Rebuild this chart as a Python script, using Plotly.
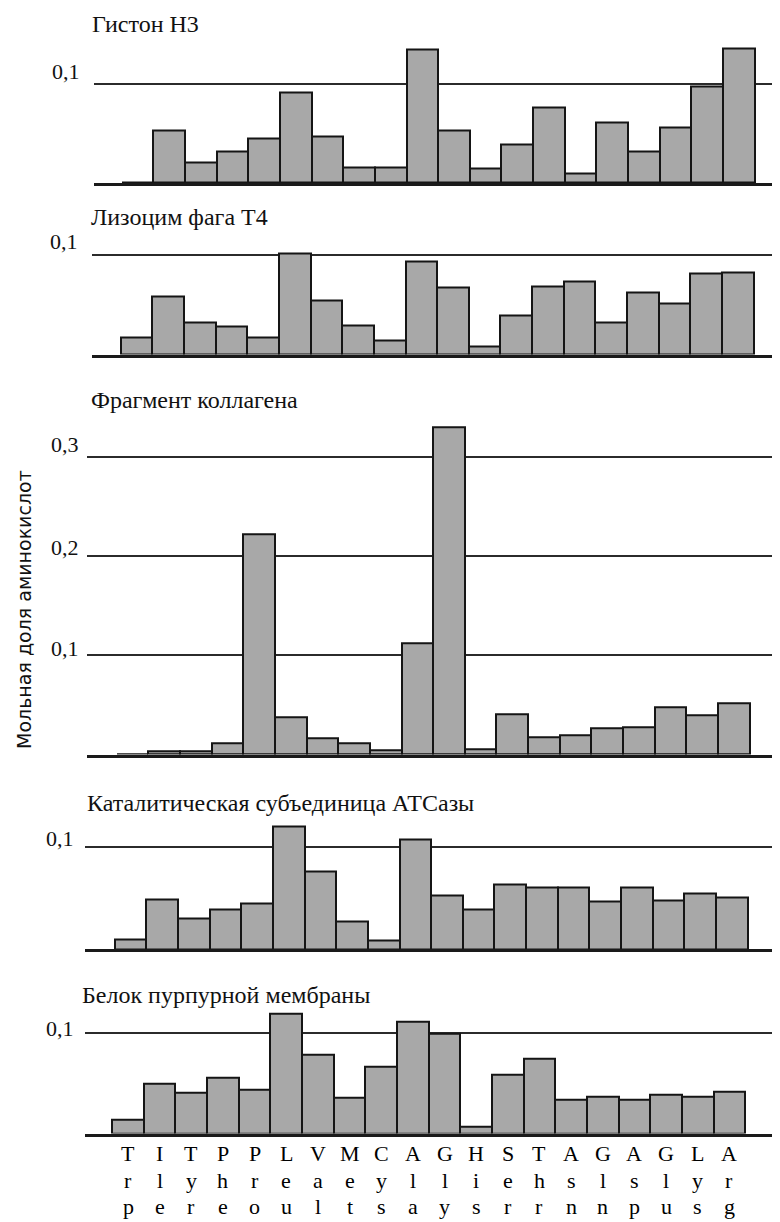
import plotly.graph_objects as go

# ---------------- data ----------------
amino_codes = ["Trp", "Ile", "Tyr", "Phe", "Pro", "Leu", "Val", "Met", "Cys", "Ala",
               "Gly", "His", "Ser", "Thr", "Asn", "Gln", "Asp", "Glu", "Lys", "Arg"]

histone_h3 = [0.000, 0.053, 0.021, 0.032, 0.045, 0.091, 0.047, 0.016, 0.016, 0.135,
              0.053, 0.015, 0.039, 0.076, 0.010, 0.061, 0.032, 0.056, 0.097, 0.136]
lysozyme_t4 = [0.017, 0.058, 0.032, 0.028, 0.017, 0.101, 0.054, 0.029, 0.014, 0.093,
               0.067, 0.008, 0.039, 0.068, 0.073, 0.032, 0.062, 0.051, 0.081, 0.082]
collagen = [0.000, 0.003, 0.003, 0.011, 0.222, 0.038, 0.016, 0.011, 0.004, 0.112,
            0.330, 0.005, 0.041, 0.017, 0.019, 0.026, 0.027, 0.048, 0.040, 0.052]
atcase = [0.009, 0.049, 0.030, 0.039, 0.045, 0.120, 0.076, 0.027, 0.008, 0.107,
          0.053, 0.039, 0.063, 0.060, 0.060, 0.047, 0.060, 0.048, 0.055, 0.051]
purple_membrane = [0.014, 0.049, 0.040, 0.055, 0.043, 0.119, 0.078, 0.035, 0.066, 0.111,
                   0.099, 0.007, 0.058, 0.074, 0.033, 0.036, 0.033, 0.038, 0.036, 0.041]

series = [histone_h3, lysozyme_t4, collagen, atcase, purple_membrane]
panel_titles = ["Гистон Н3", "Лизоцим фага Т4", "Фрагмент коллагена",
                "Каталитическая субъединица АТСазы", "Белок пурпурной мембраны"]
grid_values = [[0.1], [0.1], [0.1, 0.2, 0.3], [0.1], [0.1]]
grid_labels = [["0,1"], ["0,1"], ["0,1", "0,2", "0,3"], ["0,1"], ["0,1"]]
y_title = "Мольная доля аминокислот"

# ---------------- geometry ----------------
# The page body has an 8 px margin, so the figure is drawn 8 px smaller and
# every reference pixel position is shifted by OFF.
OFF = 8
W, H = 780 - OFF, 1222 - OFF


def px(x):
    return (x - OFF) / W


def py(y):
    return (H - (y - OFF)) / H


# base: y pixel of zero line; per: pixels per unit; ymax: top of axis range
# left/right: plot area pixels; c0: pixel centre of first bar (reference pixels)
geom = [
    dict(base=183.0, per=990, ymax=0.16, left=94, right=780, c0=137.5, tx=90, ty=18.5,
         labs=[(82, 71)]),
    dict(base=354.5, per=1000, ymax=0.13, left=92, right=780, c0=136.5, tx=89, ty=217,
         labs=[(80, 241)]),
    dict(base=754.5, per=992, ymax=0.345, left=87, right=780, c0=132.5, tx=89, ty=400,
         labs=[(81, 648), (81, 547), (81, 445)]),
    dict(base=949.0, per=1020, ymax=0.13, left=85, right=778, c0=130.5, tx=85, ty=803,
         labs=[(76, 838)]),
    dict(base=1133.5, per=1005, ymax=0.13, left=85, right=777, c0=128.0, tx=80, ty=995,
         labs=[(76, 1029)]),
]
spacing = 31.65
letter_rows_y = [1153.5, 1180.5, 1206.5]

serif = "Liberation Serif"
fig = go.Figure()
annotations = []
xs = list(range(len(amino_codes)))

for i, (vals, g) in enumerate(zip(series, geom)):
    k = "" if i == 0 else str(i + 1)
    fig.add_trace(go.Bar(
        x=xs, y=vals, width=1.0,
        marker=dict(color="#a8a8a8", line=dict(color="#151515", width=2)),
        xaxis="x" + k, yaxis="y" + k, showlegend=False, hoverinfo="skip",
    ))
    top_px = g["base"] - g["ymax"] * g["per"]
    x0 = (g["left"] - g["c0"]) / spacing
    x1 = (g["right"] - g["c0"]) / spacing
    fig.layout["xaxis" + k] = dict(
        domain=[px(g["left"]), min(1.0, px(g["right"]))], range=[x0, x1], anchor="y" + k,
        showline=True, linecolor="#1a1a1a", linewidth=2.5, showgrid=False,
        zeroline=False, ticks="", tickvals=xs, showticklabels=False,
        automargin=False, fixedrange=True,
    )
    fig.layout["yaxis" + k] = dict(
        domain=[py(g["base"]), py(top_px)], range=[0, g["ymax"]], anchor="x" + k,
        showline=False, zeroline=False, showgrid=True, gridcolor="#2b2b2b",
        gridwidth=2, tickvals=grid_values[i], showticklabels=False,
        automargin=False, fixedrange=True,
    )
    if i == 0:
        # keep the first title fully inside the figure
        title_pos = dict(y=py(OFF + 0.5), yanchor="top")
    else:
        title_pos = dict(y=py(g["ty"]), yanchor="middle")
    annotations.append(dict(
        text=panel_titles[i], xref="paper", yref="paper",
        x=px(g["tx"]), xanchor="left", showarrow=False,
        font=dict(family=serif, size=24, color="#111"), **title_pos,
    ))
    for (lx, ly), lab in zip(g["labs"], grid_labels[i]):
        annotations.append(dict(
            text=lab, xref="paper", yref="paper",
            x=px(lx), y=py(ly), xanchor="right", yanchor="middle",
            showarrow=False, font=dict(family=serif, size=22, color="#111"),
        ))

# three-letter amino-acid codes written vertically under the last panel
for xi, code in zip(xs, amino_codes):
    for r, ch in enumerate(code):
        annotations.append(dict(
            text=ch, xref="x5", yref="paper", x=xi, y=py(letter_rows_y[r]),
            xanchor="center", yanchor="middle", showarrow=False,
            font=dict(family=serif, size=22, color="#000"),
        ))

annotations.append(dict(
    text=y_title, xref="paper", yref="paper", x=px(24), y=py(610),
    xanchor="center", yanchor="middle", textangle=-90, showarrow=False,
    font=dict(family="DejaVu Sans", size=19, color="#111"),
))

fig.update_layout(
    width=W, height=H, margin=dict(l=0, r=0, t=0, b=0),
    paper_bgcolor="white", plot_bgcolor="white",
    bargap=0, annotations=annotations, showlegend=False,
)

fig.write_html("out.html")
